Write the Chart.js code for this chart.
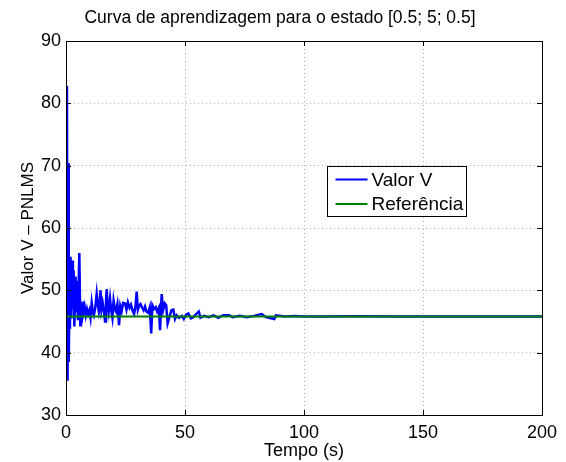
<!DOCTYPE html>
<html>
<head>
<meta charset="utf-8">
<script src="https://cdn.jsdelivr.net/npm/chart.js@4.4.1/dist/chart.umd.min.js"></script>
<style>
  html, body { margin: 0; padding: 0; background: #fff; }
  #wrap { width: 566px; height: 462px; }
</style>
</head>
<body>
<div id="wrap"><canvas id="chart" width="566" height="462"></canvas></div>
<script>
// tempo (s) e valor V
var tempo = [
    0, 0.4, 0.65, 0.85, 1.05, 1.25, 1.45, 1.65, 1.9, 2.2,
    2.6, 2.9, 3.2, 3.5, 4.0, 4.4, 4.7, 5.0, 5.6, 6.0,
    6.3, 6.6, 7.0, 7.4, 7.8, 8.3, 8.8, 9.3, 9.8, 10.3,
    10.8, 11.3, 11.7, 12.3, 12.9, 13.3, 13.8, 14.1, 14.5, 14.9,
    15.4, 15.9, 16.4, 16.8, 17.1, 17.5, 17.9, 18.5, 19.0, 19.5,
    20.0, 20.5, 21.0, 21.6, 22.3, 22.8, 23.4, 24.0, 24.8, 25.4,
    26.0, 26.7, 27.3, 28.0, 28.6, 29.2, 29.7, 30.2, 30.8, 31.3,
    32.0, 32.6, 33.2, 33.8, 34.5, 35.2, 35.8, 36.3, 37.0, 37.7,
    38.3, 39.0, 39.5, 40.2, 40.8, 41.5, 42.1, 42.7, 43.3, 44.3,
    45.1, 45.8, 46.5, 47.5, 48.7, 49.5, 50.5, 51.4, 52.5, 53.5,
    55.2, 55.8, 56.5, 58, 60, 62, 64, 66, 68.5, 70,
    73, 76, 79, 82.2, 84, 87.5, 88.2, 92, 96, 100,
    110, 120, 140, 160, 180, 200
];
var valorV = [
    45.8, 82.8, 35.5, 62.0, 70.4, 38.5, 50.5, 43.8, 55.4, 45.5,
    54.8, 47.0, 53.2, 44.2, 52.2, 46.5, 51.5, 45.2, 56.0, 44.4,
    47.6, 44.8, 48.2, 46.6, 47.4, 46.0, 47.0, 46.2, 46.8, 45.6,
    48.0, 46.5, 46.0, 47.2, 49.5, 48.0, 46.6, 47.3, 50.0, 46.9,
    48.0, 46.8, 45.0, 48.3, 50.2, 47.5, 46.5, 48.7, 46.8, 45.6,
    48.3, 47.0, 46.6, 47.8, 44.4, 47.5, 46.7, 48.0, 47.9, 46.9,
    48.1, 47.2, 47.7, 46.7, 46.2, 47.4, 49.8, 46.9, 47.6, 47.8,
    47.2, 46.8, 47.4, 46.6, 46.4, 47.3, 43.1, 47.6, 47.0, 47.3,
    46.6, 47.2, 43.6, 49.4, 46.8, 47.9, 47.6, 44.7, 45.5, 46.8,
    46.9, 45.4, 46.0, 45.6, 45.9, 45.4, 46.1, 46.3, 45.5, 45.7,
    46.4, 46.6, 45.6, 45.9, 45.7, 46.0, 45.6, 46.0, 46.0, 45.7,
    45.9, 45.7, 45.9, 46.2, 45.7, 45.4, 46.0, 45.8, 45.9, 45.8,
    45.8, 45.85, 45.8, 45.8, 45.8, 45.8
];
var refTempo = [0, 200];
var referencia = [45.8, 45.8];
var xTicks = [0, 50, 100, 150, 200];
var yTicks = [30, 40, 50, 60, 70, 80, 90];

function toPoints(xs, ys) {
    return xs.map(function(x, i) { return { x: x, y: ys[i] }; });
}

var fonte = "'Liberation Sans', Arial, Helvetica, sans-serif";

// moldura, ticks para dentro e legenda ao estilo do MATLAB
var matlabBox = {
    id: "matlabBox",
    afterDraw: function(chart) {
        var ctx = chart.ctx;
        var a = chart.chartArea;
        var sx = chart.scales.x, sy = chart.scales.y;
        ctx.save();
        ctx.strokeStyle = "#000";
        ctx.lineWidth = 1;
        ctx.beginPath();
        xTicks.forEach(function(t) {
            var px = Math.round(sx.getPixelForValue(t)) + 0.5;
            ctx.moveTo(px, a.bottom); ctx.lineTo(px, a.bottom - 5);
            ctx.moveTo(px, a.top); ctx.lineTo(px, a.top + 5);
        });
        yTicks.forEach(function(t) {
            var py = Math.round(sy.getPixelForValue(t)) + 0.5;
            ctx.moveTo(a.left, py); ctx.lineTo(a.left + 5, py);
            ctx.moveTo(a.right, py); ctx.lineTo(a.right - 5, py);
        });
        ctx.stroke();
        ctx.strokeRect(Math.round(a.left) + 0.5, Math.round(a.top) + 0.5,
                       Math.round(a.right - a.left), Math.round(a.bottom - a.top));

        // legenda
        var lx = 327.5, ly = 166.5, lw = 139, lh = 50;
        ctx.fillStyle = "#fff";
        ctx.fillRect(lx, ly, lw, lh);
        ctx.strokeRect(lx, ly, lw, lh);
        ctx.font = "19px " + fonte;
        ctx.textBaseline = "middle";
        chart.data.datasets.forEach(function(ds, i) {
            var y = ly + 13 + i * 24.5;
            ctx.strokeStyle = ds.borderColor;
            ctx.lineWidth = 2;
            ctx.beginPath();
            ctx.moveTo(lx + 8, y);
            ctx.lineTo(lx + 40, y);
            ctx.stroke();
            ctx.fillStyle = "#000";
            ctx.fillText(ds.label, lx + 44, y + 1);
        });
        ctx.restore();
    }
};

var ctx = document.getElementById("chart").getContext("2d");
var myChart = new Chart(ctx, {
    type: "line",
    data: {
        datasets: [
            {
                label: "Valor V",
                data: toPoints(tempo, valorV),
                borderColor: "#0000ff",
                borderWidth: 2.5,
                pointRadius: 0,
                tension: 0,
                order: 1
            },
            {
                label: "Referência",
                data: toPoints(refTempo, referencia),
                borderColor: "#008000",
                borderWidth: 2,
                pointRadius: 0,
                tension: 0,
                order: 0
            }
        ]
    },
    options: {
        responsive: false,
        animation: false,
        layout: { padding: { top: 0, right: 24, bottom: 0, left: 18 } },
        plugins: {
            legend: { display: false },
            tooltip: { enabled: false },
            title: {
                display: true,
                text: "Curva de aprendizagem para o estado [0.5; 5; 0.5]",
                color: "#000",
                font: { family: fonte, size: 17.5, weight: "normal" },
                padding: { top: 8, bottom: 12 }
            }
        },
        scales: {
            x: {
                type: "linear",
                min: 0,
                max: 200,
                afterBuildTicks: function(scale) {
                    scale.ticks = xTicks.map(function(v) { return { value: v }; });
                },
                afterFit: function(scale) { scale.height = 47; },
                grid: {
                    color: "#b0b0b0",
                    drawTicks: false
                },
                border: { display: false, dash: [1, 3] },
                ticks: {
                    color: "#000",
                    padding: 7,
                    maxRotation: 0,
                    font: { family: fonte, size: 18 }
                },
                title: {
                    display: true,
                    text: "Tempo (s)",
                    color: "#000",
                    padding: { top: 0, bottom: 0 },
                    font: { family: fonte, size: 18 }
                }
            },
            y: {
                min: 30,
                max: 90,
                afterBuildTicks: function(scale) {
                    scale.ticks = yTicks.map(function(v) { return { value: v }; });
                },
                afterFit: function(scale) { scale.width = 48; },
                grid: {
                    color: "#b0b0b0",
                    drawTicks: false
                },
                border: { display: false, dash: [1, 3] },
                ticks: {
                    color: "#000",
                    padding: 5,
                    font: { family: fonte, size: 18 }
                },
                title: {
                    display: true,
                    text: "Valor V – PNLMS",
                    color: "#000",
                    padding: { top: 0, bottom: 0 },
                    font: { family: fonte, size: 17 }
                }
            }
        }
    },
    plugins: [matlabBox]
});
</script>
</body>
</html>
